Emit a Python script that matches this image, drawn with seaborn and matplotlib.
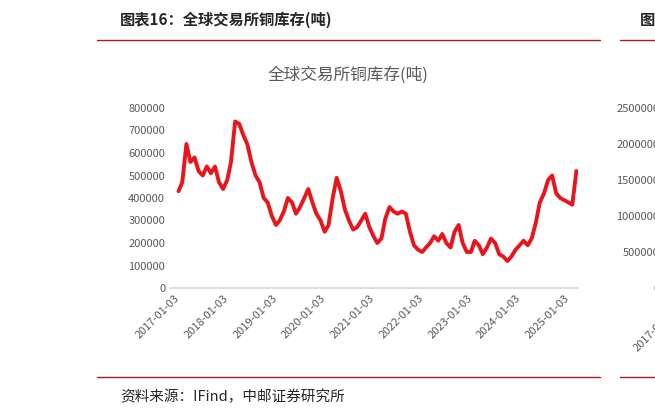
import numpy as np
import pandas as pd
import matplotlib
matplotlib.use("Agg")
import matplotlib.pyplot as plt
import matplotlib.dates as mdates
import matplotlib.ticker as ticker
import seaborn as sns

# monthly copper inventory (t)
stock = [
    430000, 470000, 640000, 560000, 580000, 520000, 500000, 540000, 510000, 540000, 470000, 440000,
    480000, 560000, 740000, 730000, 680000, 640000, 560000, 500000, 470000, 400000, 380000, 320000,
    280000, 300000, 340000, 400000, 380000, 330000, 360000, 400000, 440000, 380000, 330000, 300000,
    250000, 280000, 400000, 490000, 430000, 350000, 300000, 260000, 270000, 300000, 330000, 270000,
    230000, 200000, 220000, 310000, 360000, 340000, 330000, 340000, 330000, 250000, 190000, 170000,
    160000, 180000, 200000, 230000, 210000, 240000, 200000, 180000, 250000, 280000, 200000, 160000,
    160000, 210000, 190000, 150000, 180000, 220000, 200000, 150000, 140000, 120000, 140000, 170000,
    190000, 210000, 190000,
]
stock_tail = [220000, 290000, 380000, 420000, 480000, 500000, 420000, 400000, 390000, 380000, 370000, 520000]
months = pd.date_range("2017-01-03", periods=len(stock) + len(stock_tail), freq="MS") + pd.Timedelta(days=2)
df = pd.DataFrame({"date": months, "stock": stock + stock_tail})

tick_dates = pd.to_datetime([f"{y}-01-03" for y in range(2017, 2026)])

sns.set_theme(style="white")
plt.rcParams["font.family"] = ["Noto Sans CJK SC", "DejaVu Sans"]

fig = plt.figure(figsize=(6.55, 4.16), dpi=100)
ax = fig.add_axes([170 / 655, 1 - 288 / 416, 408 / 655, 180 / 416])
sns.lineplot(data=df, x="date", y="stock", color="#e8161c", linewidth=2.8, ax=ax)
ax.set_ylim(0, 800000)
ax.set_yticks(np.arange(0, 800001, 100000))
ax.set_xlim(pd.Timestamp("2016-12-01"), pd.Timestamp("2025-04-15"))
ax.set_xticks(tick_dates)
ax.xaxis.set_major_formatter(mdates.DateFormatter("%Y-%m-%d"))
ax.tick_params(axis="both", labelsize=8, colors="#595959", length=0)
plt.setp(ax.get_xticklabels(), rotation=45, ha="right", rotation_mode="anchor")
for s in ["top", "right", "left"]:
    ax.spines[s].set_visible(False)
ax.spines["bottom"].set_color("#d9d9d9")
ax.set_xlabel("")
ax.set_ylabel("")
fig.text(348 / 655, 1 - 75 / 416, "全球交易所铜库存(吨)", ha="center", va="center",
         fontsize=12, color="#595959")

# partial neighbouring chart on the right edge
ax2 = fig.add_axes([664 / 655, 1 - 288 / 416, 0.3, 180 / 416])
ax2.set_ylim(0, 2500000)
ax2.set_yticks(np.arange(0, 2500001, 500000))
ax2.yaxis.set_major_formatter(ticker.FuncFormatter(lambda v, p: f"{int(v)}"))
ax2.tick_params(axis="y", labelsize=8, colors="#595959", length=0)
ax2.set_xticks([])
for s in ax2.spines.values():
    s.set_visible(False)
fig.text(632 / 655, 1 - 330 / 416, "2017-01-03", rotation=45, fontsize=8,
         color="#595959", ha="left", va="center")

# report frame
fig.text(120 / 655, 1 - 20 / 416, "图表16：全球交易所铜库存(吨)", fontsize=11,
         fontweight="bold", va="center")
fig.text(640 / 655, 1 - 20 / 416, "图", fontsize=11, fontweight="bold", va="center")
fig.text(120 / 655, 1 - 397 / 416, "资料来源：IFind，中邮证券研究所", fontsize=10.5, va="center")
for yy in [40, 377]:
    fig.add_artist(plt.Line2D([97 / 655, 600 / 655], [1 - yy / 416] * 2, color="#a31f24", lw=1))
    fig.add_artist(plt.Line2D([620 / 655, 1], [1 - yy / 416] * 2, color="#a31f24", lw=1))

fig.savefig("out.png", dpi=100)
